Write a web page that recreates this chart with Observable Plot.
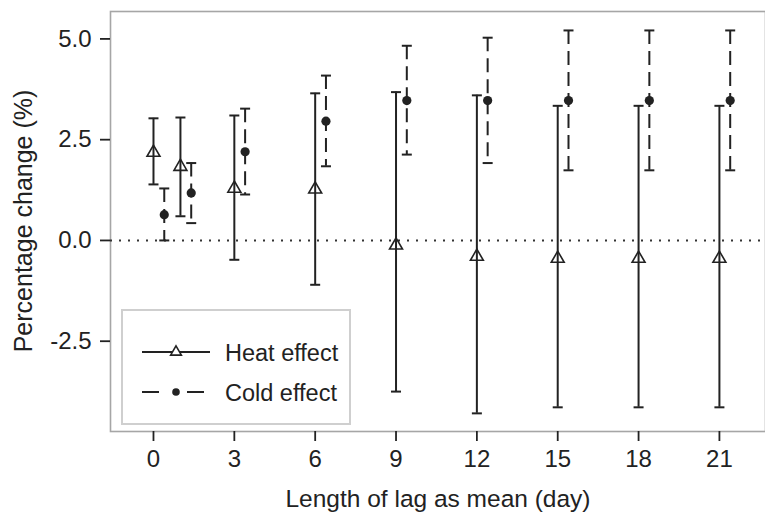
<!DOCTYPE html>
<html>
<head>
<meta charset="utf-8">
<script src="https://cdn.jsdelivr.net/npm/d3@7"></script>
<script src="https://cdn.jsdelivr.net/npm/@observablehq/plot@0.6"></script>
<style>
  html, body { margin: 0; padding: 0; background: #fff; }
  #chart { width: 765px; height: 513px; position: relative; overflow: hidden; }
  svg { font-family: "Liberation Sans", Arial, sans-serif; }
</style>
</head>
<body>
<div id="chart"></div>
<script>
// ---- data ----
const lags      = [0, 1, 3, 6, 9, 12, 15, 18, 21];
const heatEst   = [2.18, 1.83, 1.29, 1.27, -0.12, -0.40, -0.45, -0.45, -0.45];
const heatLow   = [1.39, 0.60, -0.48, -1.10, -3.75, -4.29, -4.14, -4.14, -4.14];
const heatHigh  = [3.03, 3.05, 3.10, 3.65, 3.68, 3.60, 3.34, 3.34, 3.34];
const coldEst   = [0.64, 1.18, 2.20, 2.96, 3.47, 3.47, 3.47, 3.47, 3.47];
const coldLow   = [0.00, 0.43, 1.14, 1.84, 2.13, 1.92, 1.74, 1.74, 1.74];
const coldHigh  = [1.29, 1.92, 3.27, 4.09, 4.83, 5.03, 5.21, 5.21, 5.21];
const xTicks    = [0, 3, 6, 9, 12, 15, 18, 21];
const yTicks    = [-2.5, 0, 2.5, 5];
const seriesNames = ["Heat effect", "Cold effect"];
const coldDodge = 0.4; // cold series drawn slightly to the right of each lag

const heat = lags.map((l, i) => ({x: l, est: heatEst[i], lo: heatLow[i], hi: heatHigh[i]}));
const cold = lags.map((l, i) => ({x: l + coldDodge, est: coldEst[i], lo: coldLow[i], hi: coldHigh[i]}));

const ink = "#222";
const capSymbol = {
  draw(ctx, size) {
    const w = Math.sqrt(size / Math.PI);
    ctx.moveTo(-w, 0); ctx.lineTo(w, 0);
  }
};

const W = 765, H = 513;
const plot = Plot.plot({
  width: W,
  height: H,
  marginLeft: 110,
  marginRight: 0,
  marginTop: 11,
  marginBottom: 82,
  style: {fontFamily: "'Liberation Sans', Arial, sans-serif", background: "#fff"},
  x: {domain: [-1.595, 22.71]},
  y: {domain: [-4.74, 5.68]},
  marks: [
    Plot.frame({stroke: "#a6a6a6", strokeWidth: 1.6}),
    Plot.ruleY([0], {stroke: "#333", strokeWidth: 2, strokeDasharray: "2,7"}),
    // heat
    Plot.ruleX(heat, {x: "x", y1: "lo", y2: "hi", stroke: ink, strokeWidth: 2}),
    Plot.dot(heat, {x: "x", y: "lo", symbol: capSymbol, r: 5, stroke: ink, strokeWidth: 2, fill: "none"}),
    Plot.dot(heat, {x: "x", y: "hi", symbol: capSymbol, r: 5, stroke: ink, strokeWidth: 2, fill: "none"}),
    Plot.dot(heat, {x: "x", y: "est", symbol: "triangle", r: 4.8, stroke: ink, strokeWidth: 1.6, fill: "none"}),
    // cold
    Plot.ruleX(cold, {x: "x", y1: "hi", y2: "lo", stroke: ink, strokeWidth: 2, strokeDasharray: "14,7"}),
    Plot.dot(cold, {x: "x", y: "lo", symbol: capSymbol, r: 5, stroke: ink, strokeWidth: 2, fill: "none"}),
    Plot.dot(cold, {x: "x", y: "hi", symbol: capSymbol, r: 5, stroke: ink, strokeWidth: 2, fill: "none"}),
    Plot.dot(cold, {x: "x", y: "est", r: 4.6, fill: ink, stroke: "none"}),
    // axes
    Plot.axisX({ticks: xTicks, tickSize: 10, tickPadding: 8, fontSize: 24, stroke: ink, strokeWidth: 1.8, color: "#222", label: null, tickFormat: d => String(d)}),
    Plot.axisY({ticks: yTicks, tickSize: 10, tickPadding: 9, fontSize: 24, stroke: ink, strokeWidth: 1.8, color: "#222", label: null, tickFormat: d => d.toFixed(1)})
  ]
});

document.getElementById("chart").appendChild(plot);

// ---- titles and legend (annotations) ----
const svg = d3.select(plot);
svg.append("text")
  .attr("x", 438).attr("y", 507)
  .attr("text-anchor", "middle")
  .attr("font-size", 24.5).attr("fill", "#222")
  .text("Length of lag as mean (day)");
svg.append("text")
  .attr("transform", "translate(32,221) rotate(-90)")
  .attr("text-anchor", "middle")
  .attr("font-size", 25).attr("fill", "#222")
  .text("Percentage change (%)");

const lg = svg.append("g").attr("text-anchor", "start");
lg.append("rect").attr("x", 122).attr("y", 310).attr("width", 228).attr("height", 114)
  .attr("fill", "#fff").attr("stroke", "#cfcfcf").attr("stroke-width", 2);
const rows = [
  {y: 352, segs: [[142, 210]]},
  {y: 392, segs: [[142, 159], [187, 204]]}
];
rows.forEach((r, i) => {
  r.segs.forEach(([a, b]) => {
    lg.append("line").attr("x1", a).attr("x2", b).attr("y1", r.y).attr("y2", r.y)
      .attr("stroke", ink).attr("stroke-width", 2);
  });
  if (i === 0) {
    lg.append("path").attr("transform", `translate(176,${r.y})`)
      .attr("d", d3.symbol(d3.symbolTriangle, 50)())
      .attr("fill", "#fff").attr("stroke", ink).attr("stroke-width", 1.6);
  } else {
    lg.append("circle").attr("cx", 176).attr("cy", r.y).attr("r", 3.8).attr("fill", ink);
  }
  lg.append("text").attr("x", 225).attr("y", r.y + 8.5)
    .attr("text-anchor", "start")
    .attr("font-size", 23.5).attr("fill", "#222")
    .text(seriesNames[i]);
});
</script>
</body>
</html>
